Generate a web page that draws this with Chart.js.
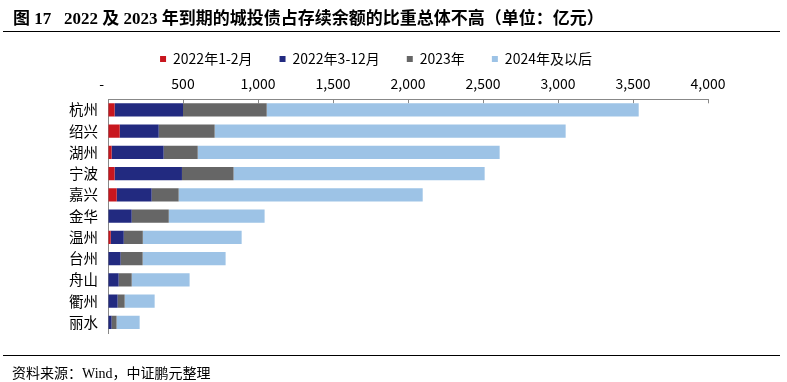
<!DOCTYPE html>
<html>
<head>
<meta charset="utf-8">
<script src="https://cdn.jsdelivr.net/npm/chart.js@4.4.0/dist/chart.umd.min.js"></script>
<style>
    body { margin: 0; background: #fff; }
    .page { position: relative; width: 787px; height: 382px; overflow: hidden; }
    #chart { position: absolute; left: 0; top: 0; }
    .title {
        position: absolute; left: 13px; top: 4px;
        font: bold 17px "Liberation Serif", "Noto Sans CJK SC", serif;
        color: #000; white-space: pre;
    }
    .rule { position: absolute; left: 3px; width: 777px; height: 0; border-top: 1.5px solid #000; }
    .source {
        position: absolute; left: 12px; top: 362px;
        font: 14px "Liberation Serif", "Noto Sans CJK SC", serif;
        color: #000; white-space: pre;
    }
</style>
</head>
<body>
<div class="page">
    <canvas id="chart" width="787" height="382"></canvas>
    <div class="title">图 17   2022 及 2023 年到期的城投债占存续余额的比重总体不高（单位：亿元）</div>
    <div class="rule" style="top:31px"></div>
    <div class="rule" style="top:355px"></div>
    <div class="source">资料来源：Wind，中证鹏元整理</div>
</div>
<script>
// 城市（自上而下）
const cities = ['杭州', '绍兴', '湖州', '宁波', '嘉兴', '金华', '温州', '台州', '舟山', '衢州', '丽水'];

// 各到期区间余额，亿元
const due2022Jan = [44, 78, 24, 44, 58, 0, 18, 0, 0, 0, 0];
const due2022Mar = [456, 260, 347, 449, 233, 158, 87, 84, 71, 64, 24];
const due2023 = [558, 373, 227, 344, 180, 247, 127, 147, 87, 47, 33];
const due2024On = [2480, 2340, 2013, 1674, 1627, 639, 659, 553, 386, 200, 154];

const seriesNames = ['2022年1-2月', '2022年3-12月', '2023年', '2024年及以后'];
const seriesColors = ['#C8161E', '#222A80', '#666666', '#9DC3E6'];

const axisMax = 4000;
const axisStep = 500;

const cjk = '"Noto Sans CJK SC", sans-serif';

const seriesData = [due2022Jan, due2022Mar, due2023, due2024On];

new Chart(document.getElementById('chart'), {
    type: 'bar',
    data: {
        labels: cities,
        datasets: seriesData.map((d, i) => ({
            label: seriesNames[i],
            data: d,
            backgroundColor: seriesColors[i],
            borderWidth: 0,
            barPercentage: 0.62,
            categoryPercentage: 1
        }))
    },
    options: {
        indexAxis: 'y',
        responsive: false,
        animation: false,
        layout: {
            padding: { left: 44, right: 79, top: 25, bottom: 49 }
        },
        scales: {
            x: {
                position: 'top',
                stacked: true,
                min: 0,
                max: axisMax,
                afterFit: function(scale) { scale.height = 23.3; },
                ticks: {
                    stepSize: axisStep,
                    padding: 11.6,
                    color: '#000',
                    font: { family: cjk, size: 14 },
                    callback: function(value) {
                        // 零值按原图显示为 "-"，略向左偏
                        return value === 0 ? '-    ' : value.toLocaleString('en-US');
                    }
                },
                grid: {
                    display: true,
                    drawOnChartArea: false,
                    drawTicks: true,
                    tickLength: -4,
                    color: '#888888'
                },
                border: { display: true, color: '#888888', width: 1 }
            },
            y: {
                stacked: true,
                afterFit: function(scale) { scale.width = 64; },
                ticks: {
                    padding: 10,
                    color: '#000',
                    font: { family: cjk, size: 14.5 }
                },
                grid: { display: false, drawTicks: false },
                border: { display: true, color: '#888888', width: 1 }
            }
        },
        plugins: {
            tooltip: { enabled: false },
            legend: {
                position: 'top',
                labels: {
                    boxWidth: 6,
                    boxHeight: 6,
                    padding: 27,
                    color: '#000',
                    font: { family: cjk, size: 14 }
                }
            }
        }
    }
});
</script>
</body>
</html>
